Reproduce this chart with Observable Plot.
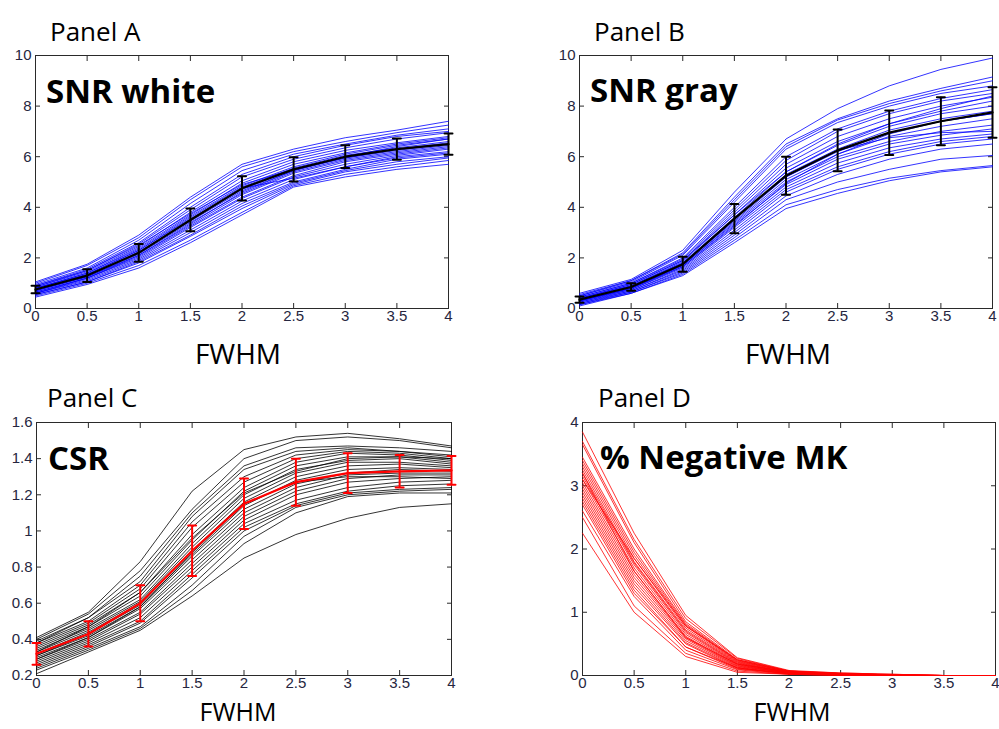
<!DOCTYPE html>
<html>
<head>
<meta charset="utf-8">
<script src="https://cdn.jsdelivr.net/npm/d3@7"></script>
<script src="https://cdn.jsdelivr.net/npm/@observablehq/plot@0.6"></script>
<style>
  html, body { margin: 0; padding: 0; background: #fff; }
  #root { position: relative; width: 999px; height: 729px; background: #fff; overflow: hidden; }
  #root > svg, #root > figure { position: absolute; margin: 0; }
  .overlay { pointer-events: none; }
</style>
</head>
<body>
<div id="root"></div>
<script>
// ---------- DATA ----------
const fwhm = [0, 0.5, 1, 1.5, 2, 2.5, 3, 3.5, 4];
const xTicks = [0, 0.5, 1, 1.5, 2, 2.5, 3, 3.5, 4];

// Panel A: SNR white (individual subjects)
const snrWhiteSubjects = [
  [1.05,1.75,2.90,4.40,5.70,6.30,6.75,7.05,7.40],
  [1.00,1.70,2.80,4.30,5.60,6.20,6.60,6.95,7.25],
  [0.95,1.60,2.70,4.15,5.45,6.10,6.50,6.85,7.10],
  [0.90,1.55,2.60,4.00,5.30,6.00,6.45,6.80,7.00],
  [0.85,1.50,2.55,3.90,5.20,5.90,6.35,6.70,6.95],
  [0.85,1.45,2.45,3.80,5.05,5.80,6.25,6.55,6.80],
  [0.80,1.40,2.40,3.70,4.95,5.70,6.15,6.50,6.75],
  [0.80,1.40,2.35,3.65,4.85,5.60,6.10,6.45,6.70],
  [0.75,1.35,2.30,3.60,4.80,5.55,6.05,6.35,6.60],
  [0.75,1.30,2.25,3.50,4.70,5.50,6.00,6.30,6.55],
  [0.70,1.30,2.20,3.45,4.65,5.45,5.95,6.25,6.50],
  [0.70,1.25,2.15,3.40,4.55,5.40,5.90,6.20,6.45],
  [0.70,1.25,2.10,3.30,4.50,5.35,5.85,6.15,6.40],
  [0.65,1.20,2.05,3.25,4.40,5.25,5.80,6.10,6.35],
  [0.65,1.20,2.00,3.20,4.35,5.20,5.70,6.05,6.30],
  [0.60,1.15,1.95,3.10,4.25,5.10,5.60,6.00,6.20],
  [0.60,1.10,1.90,3.00,4.15,5.00,5.50,5.90,6.10],
  [0.55,1.05,1.85,2.90,4.05,4.95,5.45,5.80,6.00],
  [0.55,1.05,1.80,2.85,3.95,4.90,5.40,5.70,5.95],
  [0.50,1.00,1.70,2.70,3.80,4.85,5.30,5.60,5.85],
  [0.45,0.95,1.60,2.60,3.70,4.80,5.20,5.50,5.70],
  [0.90,1.50,2.50,3.75,4.90,5.50,5.95,6.30,6.50],
  [0.80,1.35,2.30,3.55,4.75,5.15,5.60,5.95,6.15],
  [0.60,1.20,2.10,3.35,4.60,5.45,6.00,6.40,6.70]
];
const snrWhiteMean = [0.75,1.30,2.20,3.50,4.75,5.50,6.00,6.30,6.50];
const snrWhiteErr  = [0.15,0.25,0.35,0.45,0.48,0.48,0.45,0.42,0.42];

// Panel B: SNR gray
const snrGraySubjects = [
  [0.60,1.15,2.30,4.60,6.70,7.90,8.80,9.45,9.90],
  [0.55,1.10,2.20,4.40,6.50,7.50,8.20,8.70,9.15],
  [0.50,1.10,2.15,4.30,6.40,7.45,8.10,8.60,9.00],
  [0.50,1.05,2.10,4.20,6.30,7.35,8.00,8.50,8.80],
  [0.45,1.00,2.00,4.00,6.00,7.10,7.80,8.30,8.65],
  [0.45,1.00,1.95,3.90,5.85,7.00,7.70,8.20,8.50],
  [0.40,0.95,1.90,3.80,5.70,6.80,7.50,8.00,8.35],
  [0.40,0.90,1.85,3.70,5.55,6.60,7.30,7.80,8.20],
  [0.35,0.90,1.80,3.60,5.40,6.45,7.20,7.70,8.00],
  [0.35,0.85,1.75,3.50,5.30,6.30,7.05,7.50,7.80],
  [0.35,0.85,1.75,3.45,5.20,6.20,6.95,7.40,7.70],
  [0.30,0.80,1.70,3.40,5.10,6.10,6.80,7.20,7.50],
  [0.30,0.80,1.70,3.35,5.00,6.00,6.60,7.00,7.25],
  [0.30,0.75,1.65,3.30,4.90,5.90,6.50,6.85,7.10],
  [0.25,0.75,1.60,3.20,4.80,5.75,6.35,6.70,6.90],
  [0.25,0.70,1.55,3.10,4.70,5.60,6.20,6.60,6.80],
  [0.20,0.70,1.50,3.00,4.60,5.50,6.10,6.50,6.70],
  [0.20,0.65,1.45,2.90,4.45,5.30,5.90,6.30,6.50],
  [0.15,0.65,1.40,2.80,4.30,5.00,5.50,5.90,6.05],
  [0.15,0.60,1.35,2.70,4.10,4.70,5.15,5.45,5.65],
  [0.10,0.60,1.30,2.60,3.95,4.55,5.05,5.40,5.60],
  [0.40,0.95,1.90,3.70,5.40,6.50,7.30,7.90,8.40],
  [0.30,0.80,1.65,3.25,4.95,6.10,6.90,7.40,7.70],
  [0.35,0.85,1.80,3.55,5.20,6.25,6.75,6.95,7.00]
];
const snrGrayMean = [0.35,0.85,1.75,3.55,5.25,6.25,6.95,7.40,7.75];
const snrGrayErr  = [0.12,0.15,0.30,0.58,0.75,0.83,0.88,0.95,1.00];

// Panel C: CSR
const csrSubjects = [
  [0.41,0.55,0.83,1.22,1.45,1.52,1.54,1.51,1.47],
  [0.40,0.54,0.78,1.12,1.40,1.50,1.52,1.50,1.46],
  [0.39,0.52,0.72,1.08,1.34,1.44,1.46,1.44,1.42],
  [0.38,0.50,0.70,1.05,1.30,1.42,1.45,1.44,1.41],
  [0.37,0.49,0.68,1.02,1.27,1.40,1.44,1.43,1.40],
  [0.36,0.48,0.66,0.98,1.24,1.38,1.43,1.42,1.39],
  [0.35,0.47,0.64,0.95,1.22,1.36,1.41,1.41,1.38],
  [0.34,0.46,0.62,0.93,1.20,1.34,1.39,1.40,1.37],
  [0.33,0.45,0.61,0.91,1.18,1.32,1.38,1.38,1.36],
  [0.32,0.44,0.60,0.89,1.16,1.30,1.36,1.37,1.35],
  [0.31,0.43,0.59,0.87,1.14,1.28,1.34,1.35,1.34],
  [0.31,0.42,0.58,0.86,1.12,1.26,1.32,1.34,1.33],
  [0.30,0.41,0.57,0.84,1.10,1.24,1.31,1.32,1.32],
  [0.29,0.40,0.55,0.82,1.08,1.22,1.29,1.31,1.31],
  [0.28,0.39,0.54,0.80,1.06,1.20,1.27,1.29,1.30],
  [0.27,0.38,0.52,0.78,1.04,1.17,1.24,1.27,1.28],
  [0.26,0.37,0.50,0.76,1.02,1.15,1.22,1.25,1.26],
  [0.25,0.36,0.49,0.74,1.00,1.14,1.21,1.23,1.24],
  [0.24,0.35,0.47,0.70,0.97,1.13,1.20,1.22,1.23],
  [0.23,0.34,0.46,0.67,0.93,1.10,1.19,1.21,1.21],
  [0.21,0.33,0.45,0.64,0.85,0.98,1.07,1.13,1.15],
  [0.38,0.52,0.75,1.10,1.36,1.46,1.47,1.46,1.44],
  [0.33,0.47,0.66,0.96,1.21,1.33,1.40,1.41,1.40],
  [0.29,0.41,0.58,0.88,1.15,1.27,1.30,1.30,1.29]
];
const csrMean = [0.32,0.43,0.60,0.89,1.15,1.27,1.32,1.33,1.335];
const csrErr  = [0.06,0.07,0.10,0.14,0.14,0.13,0.11,0.09,0.08];

// Panel D: % Negative MK
const negMkSubjects = [
  [3.85,2.25,0.95,0.28,0.08,0.04,0.02,0,0],
  [3.70,2.15,0.90,0.27,0.07,0.04,0.02,0,0],
  [3.65,2.10,0.85,0.25,0.07,0.03,0.01,0,0],
  [3.45,2.00,0.82,0.24,0.06,0.03,0.01,0,0],
  [3.40,1.95,0.80,0.23,0.06,0.03,0.01,0,0],
  [3.35,1.90,0.78,0.22,0.06,0.03,0.01,0,0],
  [3.30,1.85,0.75,0.21,0.05,0.02,0.01,0,0],
  [3.25,1.80,0.72,0.20,0.05,0.02,0.01,0,0],
  [3.20,1.78,0.70,0.19,0.05,0.02,0,0,0],
  [3.15,1.75,0.68,0.18,0.05,0.02,0,0,0],
  [3.10,1.70,0.65,0.17,0.04,0.02,0,0,0],
  [3.05,1.65,0.62,0.16,0.04,0.02,0,0,0],
  [3.00,1.60,0.60,0.15,0.04,0.02,0,0,0],
  [2.95,1.55,0.58,0.14,0.04,0.01,0,0,0],
  [2.90,1.50,0.55,0.13,0.03,0.01,0,0,0],
  [2.85,1.45,0.52,0.12,0.03,0.01,0,0,0],
  [2.80,1.40,0.50,0.11,0.03,0.01,0,0,0],
  [2.75,1.35,0.45,0.10,0.03,0.01,0,0,0],
  [2.60,1.25,0.40,0.09,0.02,0.01,0,0,0],
  [2.50,1.10,0.35,0.07,0.02,0,0,0,0],
  [2.25,1.00,0.30,0.05,0.02,0,0,0,0],
  [3.20,1.65,0.60,0.18,0.05,0.02,0,0,0],
  [2.70,1.30,0.45,0.12,0.03,0.01,0,0,0],
  [3.10,1.85,0.78,0.25,0.07,0.03,0.01,0,0]
];

const snrTicks = [0, 2, 4, 6, 8, 10];
const csrTicks = [0.2, 0.4, 0.6, 0.8, 1, 1.2, 1.4, 1.6];
const negTicks = [0, 1, 2, 3, 4];

const panelTitles = ["Panel A", "Panel B", "Panel C", "Panel D"];
const measureLabels = ["SNR white", "SNR gray", "CSR", "% Negative MK"];
const xAxisLabel = "FWHM";

// ---------- DRAW ----------
const root = document.getElementById("root");
const fmt = d => String(+(+d).toFixed(2));
const capShape = { draw(context, l) { context.moveTo(-l, 0); context.lineTo(l, 0); } };

function tidy(subjects) {
  return subjects.flatMap((vals, s) => vals.map((v, i) => ({ x: fwhm[i], y: v, s })));
}
function meanRows(mean, err) {
  return mean.map((m, i) => ({ x: fwhm[i], y: m, lo: err ? m - err[i] : m, hi: err ? m + err[i] : m }));
}

function panel(cfg) {
  const marks = [
    Plot.frame({ stroke: "#2a2a2a", strokeWidth: 1 }),
    Plot.axisX({ anchor: "bottom", ticks: xTicks, tickSize: -5, tickPadding: 7, tickFormat: fmt, label: null, stroke: "#2a2a2a", fill: "#262640", fontSize: 15 }),
    Plot.axisX({ anchor: "top", ticks: xTicks, tickSize: -5, fill: "none", label: null, stroke: "#2a2a2a" }),
    Plot.axisY({ anchor: "left", ticks: cfg.yTicks, tickSize: -5, tickPadding: 9, tickFormat: fmt, label: null, stroke: "#2a2a2a", fill: "#262640", fontSize: 15 }),
    Plot.axisY({ anchor: "right", ticks: cfg.yTicks, tickSize: -5, fill: "none", label: null, stroke: "#2a2a2a" }),
    Plot.line(tidy(cfg.subjects), { x: "x", y: "y", z: "s", stroke: cfg.lineColor, strokeWidth: 0.8 })
  ];
  if (cfg.mean) {
    const rows = meanRows(cfg.mean, cfg.err);
    marks.push(
      Plot.line(rows, { x: "x", y: "y", stroke: cfg.meanColor, strokeWidth: 2.2 }),
      Plot.ruleX(rows, { x: "x", y1: "lo", y2: "hi", stroke: cfg.meanColor, strokeWidth: 2 }),
      Plot.vector(rows, { x: "x", y: "lo", length: 4, shape: capShape, anchor: "start", stroke: cfg.meanColor, strokeWidth: 2 }),
      Plot.vector(rows, { x: "x", y: "hi", length: 4, shape: capShape, anchor: "start", stroke: cfg.meanColor, strokeWidth: 2 })
    );
  }
  const svg = Plot.plot({
    width: cfg.width, height: cfg.height,
    marginLeft: cfg.mL, marginRight: cfg.mR, marginTop: cfg.mT, marginBottom: cfg.mB,
    x: { domain: [0, 4] },
    y: { domain: cfg.yDomain },
    style: { fontFamily: "'Liberation Sans', Arial, sans-serif", fontSize: "15px", background: "transparent", overflow: "visible" },
    marks
  });
  svg.style.left = cfg.left + "px";
  svg.style.top = cfg.top + "px";
  svg.style.overflow = "visible";
  root.appendChild(svg);
}

panel({ left: 0, top: 40, width: 460, height: 300, mL: 35, mR: 12, mT: 15, mB: 32,
  yDomain: [0, 10], yTicks: snrTicks, subjects: snrWhiteSubjects, lineColor: "#0000ff",
  mean: snrWhiteMean, err: snrWhiteErr, meanColor: "#000" });
panel({ left: 540, top: 40, width: 460, height: 300, mL: 39, mR: 8, mT: 15, mB: 32,
  yDomain: [0, 10], yTicks: snrTicks, subjects: snrGraySubjects, lineColor: "#0000ff",
  mean: snrGrayMean, err: snrGrayErr, meanColor: "#000" });
panel({ left: 0, top: 407, width: 460, height: 300, mL: 36, mR: 9, mT: 15, mB: 32,
  yDomain: [0.2, 1.6], yTicks: csrTicks, subjects: csrSubjects, lineColor: "#000",
  mean: csrMean, err: csrErr, meanColor: "#ff0000" });
panel({ left: 540, top: 407, width: 459, height: 300, mL: 42, mR: 4, mT: 15, mB: 32,
  yDomain: [0, 4], yTicks: negTicks, subjects: negMkSubjects, lineColor: "#ff0000" });

// Text overlay
const ov = d3.select(root).append("svg")
  .attr("class", "overlay")
  .attr("width", 999).attr("height", 729)
  .style("left", "0px").style("top", "0px")
  .style("font-family", "'Open Sans', sans-serif");

const titlePos = [[50, 41], [594, 41], [47, 407], [598, 407]];
const labelPos = [[46, 103], [590, 102], [48, 470], [600, 469]];
const fwhmPos = [[238, 364], [788, 364], [238, 721], [792, 721]];

titlePos.forEach(([x, y], i) => ov.append("text").attr("x", x).attr("y", y)
  .attr("font-size", 26).attr("fill", "#000").text(panelTitles[i]));
labelPos.forEach(([x, y], i) => ov.append("text").attr("x", x).attr("y", y)
  .attr("font-size", 33).attr("font-weight", "bold").attr("fill", "#000").text(measureLabels[i]));
fwhmPos.forEach(([x, y], i) => ov.append("text").attr("x", x).attr("y", y)
  .attr("font-size", i < 2 ? 28 : 25).attr("text-anchor", "middle").attr("fill", "#000").text(xAxisLabel));
</script>
</body>
</html>
